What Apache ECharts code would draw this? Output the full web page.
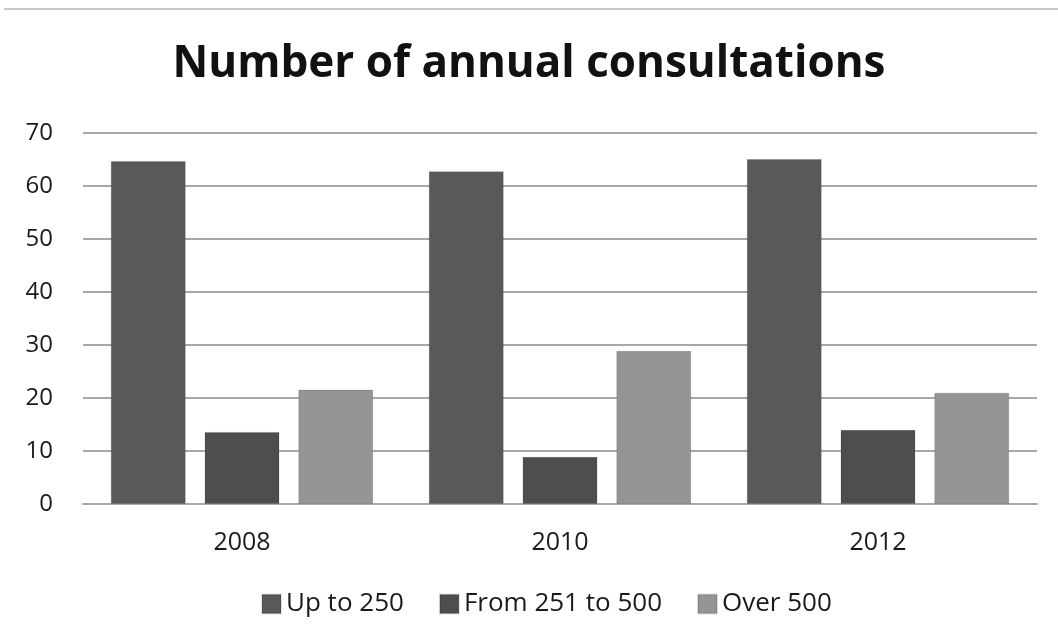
<!DOCTYPE html>
<html>
<head>
<meta charset="utf-8">
<script src="https://cdn.jsdelivr.net/npm/echarts@6/dist/echarts.min.js"></script>
<style>
  html, body { margin: 0; padding: 0; background: #fff; }
  #chart { width: 1058px; height: 624px; }
</style>
</head>
<body>
<div id="chart"></div>
<script>
// Consultation counts per year, grouped by size band
const years = ['2008', '2010', '2012'];
const seriesNames = ['Up to 250', 'From 251 to 500', 'Over 500'];
const upTo250 = [64.7, 62.8, 65.1];
const from251to500 = [13.6, 8.9, 14];
const over500 = [21.6, 28.9, 21];
const yTicks = { min: 0, max: 70, interval: 10 };

const colors = ['#595959', '#4e4e4e', '#959595'];
const values = [upTo250, from251to500, over500];
const font = '"Open Sans", "Noto Sans", sans-serif';

const chart = echarts.init(document.getElementById('chart'), null, { renderer: 'canvas' });
chart.setOption({
  animation: false,
  backgroundColor: '#fff',
  title: {
    text: 'Number of annual consultations',
    left: 'center',
    top: 37,
    textStyle: { fontFamily: font, fontWeight: 'bold', fontSize: 44, color: '#111' }
  },
  legend: {
    bottom: 2,
    left: 256,
    itemWidth: 19,
    itemHeight: 19,
    itemGap: 35,
    icon: 'rect',
    textStyle: { fontFamily: font, fontSize: 26, color: '#1a1a1a' },
    data: seriesNames
  },
  grid: { left: 83, right: 21, top: 133, bottom: 120, containLabel: false },
  xAxis: {
    type: 'category',
    data: years,
    axisTick: { show: false },
    axisLine: { show: true, lineStyle: { color: '#a8a8a8', width: 2 } },
    axisLabel: { fontFamily: font, fontSize: 25, color: '#1a1a1a', margin: 26 }
  },
  yAxis: {
    type: 'value',
    min: yTicks.min,
    max: yTicks.max,
    interval: yTicks.interval,
    axisLine: { show: false },
    axisTick: { show: false },
    axisLabel: { fontFamily: font, fontSize: 24, color: '#1a1a1a', margin: 30 },
    splitLine: { lineStyle: { color: '#a8a8a8', width: 2 } }
  },
  series: seriesNames.map((name, i) => ({
    name,
    type: 'bar',
    data: values[i],
    barWidth: 75,
    barGap: '25%',
    itemStyle: { color: colors[i], borderColor: 'rgba(0,0,0,0.12)', borderWidth: 1 }
  })),
  graphic: [{
    type: 'line',
    shape: { x1: 4, y1: 9, x2: 1058, y2: 9 },
    style: { stroke: '#c8c8c8', lineWidth: 2 }
  }]
});
</script>
</body>
</html>
